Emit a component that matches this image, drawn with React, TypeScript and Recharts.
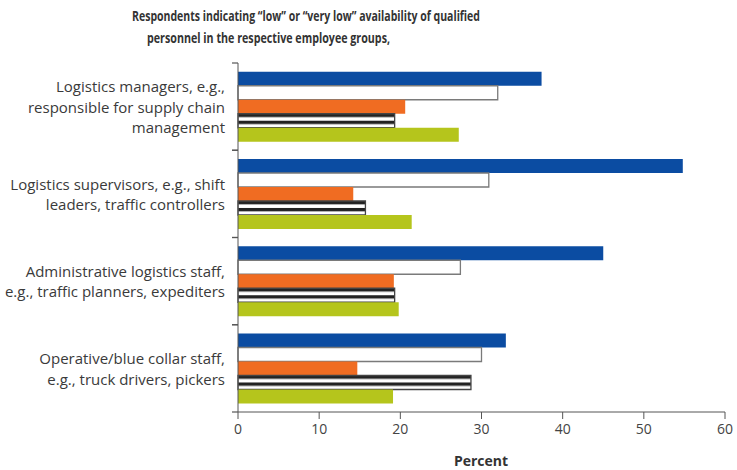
import { BarChart, Bar, XAxis, YAxis } from "recharts";

// Employee groups, one entry per wrapped label line
const groupLabels: string[][] = [
  ["Logistics managers, e.g.,", "responsible for supply chain", "management"],
  ["Logistics supervisors, e.g., shift", "leaders, traffic controllers"],
  ["Administrative logistics staff,", "e.g., traffic planners, expediters"],
  ["Operative/blue collar staff,", "e.g., truck drivers, pickers"],
];

// Percent of respondents, per group, top bar to bottom bar
const seriesA = [37.4, 54.8, 45.0, 33.0];
const seriesB = [32.0, 30.9, 27.4, 30.0];
const seriesC = [20.6, 14.2, 19.2, 14.7];
const seriesD = [19.3, 15.7, 19.3, 28.7];
const seriesE = [27.2, 21.4, 19.8, 19.1];

const xTicks = [0, 10, 20, 30, 40, 50, 60];

const W = 737;
const H = 470;
const MARGIN = { top: 63, right: 12, bottom: 28, left: 0 };
const Y_AXIS_W = 238;
const X_AXIS_H = 30;
const FONT = "'Open Sans', Lato, sans-serif";
const INK = "#3a3a3a";

const data = groupLabels.map((lines, i) => ({
  name: lines.join(" "),
  a: seriesA[i],
  b: seriesB[i],
  c: seriesC[i],
  d: seriesD[i],
  e: seriesE[i],
}));

const plotH = H - MARGIN.top - MARGIN.bottom - X_AXIS_H;
const bandHalf = plotH / groupLabels.length / 2;

function GroupTick(props: any) {
  const { y, payload } = props;
  const idx = data.findIndex((d) => d.name === payload.value);
  const lines = groupLabels[idx] ?? [String(payload.value)];
  const axisX = Y_AXIS_W;
  const lh = 20.5;
  const startY = y - ((lines.length - 1) * lh) / 2;
  return (
    <g>
      <line x1={axisX - 6} x2={axisX} y1={y - bandHalf} y2={y - bandHalf} stroke="#555" strokeWidth={1.2} />
      <line x1={axisX - 6} x2={axisX} y1={y + bandHalf} y2={y + bandHalf} stroke="#555" strokeWidth={1.2} />
      <text
        textAnchor="end"
        fontFamily={FONT}
        fontSize={15}
        fill={INK}
        dominantBaseline="central"
      >
        {lines.map((l, i) => (
          <tspan key={i} x={axisX - 13} y={startY + i * lh}>
            {l}
          </tspan>
        ))}
      </text>
    </g>
  );
}

export default function App() {
  return (
    <div style={{ position: "absolute", left: 0, top: 0, width: W, height: H, background: "#fff" }}>
      <BarChart
        width={W}
        height={H}
        data={data}
        layout="vertical"
        margin={MARGIN}
        barCategoryGap="10%"
        barGap={0}
      >
        <XAxis
          type="number"
          domain={[0, 60]}
          ticks={xTicks}
          height={X_AXIS_H}
          tickSize={7}
          tickMargin={5}
          stroke="#555"
          tick={{ fill: "#444", fontSize: 14, fontFamily: FONT }}
        />
        <YAxis
          type="category"
          dataKey="name"
          width={Y_AXIS_W}
          interval={0}
          tickLine={false}
          stroke="#555"
          tick={<GroupTick />}
        />
        <Bar dataKey="a" fill="#0b4ca2" isAnimationActive={false} />
        <Bar dataKey="b" fill="#fff" stroke="#7a7a7a" strokeWidth={1.3} isAnimationActive={false} />
        <Bar dataKey="c" fill="#f06c22" isAnimationActive={false} />
        <Bar dataKey="d" fill="url(#hstripes)" stroke="#444" strokeWidth={1.3} isAnimationActive={false} />
        <Bar dataKey="e" fill="#b5c51c" isAnimationActive={false} />
      </BarChart>

      <svg
        width={W}
        height={H}
        style={{ position: "absolute", left: 0, top: 0, pointerEvents: "none" }}
      >
        <defs>
          <pattern
            id="hstripes"
            patternUnits="objectBoundingBox"
            patternContentUnits="objectBoundingBox"
            width={1}
            height={0.5}
          >
            <rect x={0} y={0} width={1} height={0.5} fill="#fff" />
            <rect x={0} y={0} width={1} height={0.24} fill="#222" />
          </pattern>
        </defs>
        <text
          x={132}
          y={21}
          fontFamily={FONT}
          fontWeight={700}
          fontSize={15}
          fill="#333"
          textLength={348}
          lengthAdjust="spacingAndGlyphs"
        >
          Respondents indicating “low” or “very low” availability of qualified
        </text>
        <text
          x={147}
          y={43}
          fontFamily={FONT}
          fontWeight={700}
          fontSize={15}
          fill="#333"
          textLength={243}
          lengthAdjust="spacingAndGlyphs"
        >
          personnel in the respective employee groups,
        </text>
        <text
          x={481}
          y={466}
          textAnchor="middle"
          fontFamily={FONT}
          fontWeight={700}
          fontSize={14}
          fill="#333"
        >
          Percent
        </text>
      </svg>
    </div>
  );
}
